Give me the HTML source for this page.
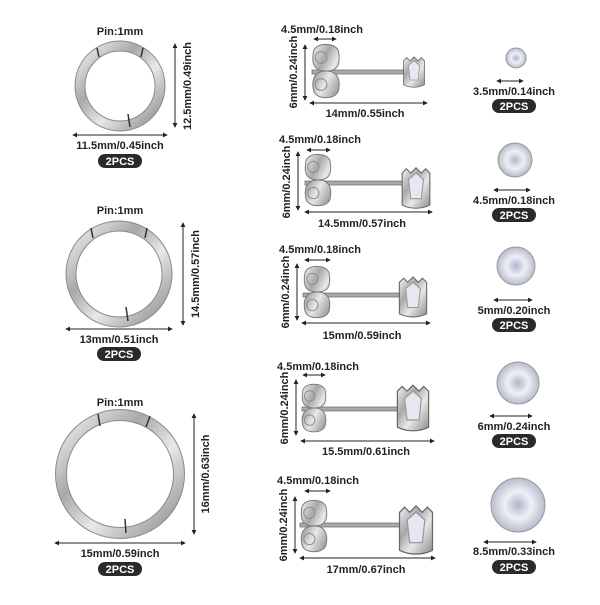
<!DOCTYPE html>
<html><head><meta charset="utf-8"><style>
html,body{margin:0;padding:0;background:#fff}
svg text{font-family:"Liberation Sans",Arial,sans-serif;font-weight:bold;font-size:11px;fill:#222}
.b{fill:#fff;font-size:11px}
</style></head><body>
<svg width="600" height="600" viewBox="0 0 600 600" xmlns="http://www.w3.org/2000/svg">
<defs>
<linearGradient id="m" x1="0" y1="0" x2="1" y2="1">
<stop offset="0" stop-color="#f4f4f4"/><stop offset=".35" stop-color="#a8a8a8"/><stop offset=".6" stop-color="#e8e8e8"/><stop offset="1" stop-color="#8a8a8a"/></linearGradient>
<radialGradient id="g"><stop offset="0" stop-color="#aeb6cc"/><stop offset=".5" stop-color="#eef0f6"/><stop offset="1" stop-color="#b8bccb"/></radialGradient>
<marker id="a" viewBox="0 0 6 6" refX="5" refY="3" markerWidth="5" markerHeight="5" orient="auto-start-reverse"><path d="M0,0L6,3L0,6z" fill="#222"/></marker>
<symbol id="back" viewBox="0 0 30 60"><path d="M15,30 C2,30 0,22 2,10 C4,0 26,0 28,10 C30,22 28,30 15,30 C28,30 30,40 28,50 C26,60 4,60 2,50 C0,40 2,30 15,30z" fill="url(#m)" stroke="#777" stroke-width="1"/><circle cx="10" cy="16" r="6" fill="none" stroke="#888"/><circle cx="10" cy="44" r="6" fill="none" stroke="#888"/></symbol>
<symbol id="head" viewBox="0 0 30 40"><path d="M2,6 L6,2 10,6 15,1 20,6 24,2 28,6 L28,36 C20,40 10,40 2,36z" fill="url(#m)" stroke="#666"/><path d="M8,12 L15,6 22,12 20,30 10,30z" fill="#e6e8ef" stroke="#999"/></symbol>
</defs>
<g stroke="#222" stroke-width="1" marker-start="url(#a)" marker-end="url(#a)">
<line x1="175" y1="44" x2="175" y2="127"/><line x1="73" y1="135" x2="167" y2="135"/>
<line x1="183" y1="223" x2="183" y2="325"/><line x1="66" y1="329" x2="172" y2="329"/>
<line x1="194" y1="414" x2="194" y2="534"/><line x1="55" y1="543" x2="185" y2="543"/>
<line x1="314" y1="39" x2="336" y2="39"/><line x1="305" y1="45" x2="305" y2="100"/><line x1="310" y1="103" x2="427" y2="103"/>
<line x1="307" y1="150" x2="330" y2="150"/><line x1="298" y1="152" x2="298" y2="210"/><line x1="305" y1="212" x2="432" y2="212"/>
<line x1="305" y1="260" x2="330" y2="260"/><line x1="297" y1="264" x2="297" y2="320"/><line x1="302" y1="323" x2="430" y2="323"/>
<line x1="303" y1="375" x2="325" y2="375"/><line x1="296" y1="380" x2="296" y2="435"/><line x1="301" y1="441" x2="434" y2="441"/>
<line x1="305" y1="491" x2="330" y2="491"/><line x1="295" y1="497" x2="295" y2="553"/><line x1="300" y1="558" x2="435" y2="558"/>
<line x1="497" y1="81" x2="523" y2="81"/><line x1="494" y1="190" x2="530" y2="190"/><line x1="494" y1="300" x2="532" y2="300"/><line x1="490" y1="416" x2="532" y2="416"/><line x1="484" y1="542" x2="536" y2="542"/>
</g>
<!-- hoops -->
<g fill="none">
<circle cx="120" cy="86" r="40" stroke="#8a8a8a" stroke-width="11"/><circle cx="120" cy="86" r="40" stroke="url(#m)" stroke-width="9"/>
<circle cx="119" cy="274" r="48" stroke="#8a8a8a" stroke-width="11"/><circle cx="119" cy="274" r="48" stroke="url(#m)" stroke-width="9"/>
<circle cx="120" cy="474" r="59" stroke="#8a8a8a" stroke-width="12"/><circle cx="120" cy="474" r="59" stroke="url(#m)" stroke-width="10"/>
</g>
<g stroke="#333" stroke-width="1.5"><line x1="128" y1="114" x2="130" y2="127"/><line x1="126" y1="307" x2="128" y2="321"/><line x1="125" y1="519" x2="126" y2="533"/>
<line x1="97" y1="48" x2="99" y2="57"/><line x1="143" y1="48" x2="141" y2="57"/>
<line x1="91" y1="228" x2="93" y2="238"/><line x1="147" y1="228" x2="145" y2="238"/>
<line x1="98" y1="414" x2="100" y2="426"/><line x1="150" y1="416" x2="146" y2="427"/></g>
<!-- studs -->
<g fill="#aaa" stroke="#666" stroke-width=".7">
<rect x="312" y="70" width="92" height="4"/><rect x="305" y="181" width="98" height="4"/><rect x="303" y="293" width="96" height="4"/><rect x="302" y="407" width="96" height="4"/><rect x="300" y="523" width="100" height="4"/>
</g>
<use href="#back" x="311" y="42" width="30" height="58"/><use href="#head" x="402" y="56" width="24" height="32"/>
<use href="#back" x="304" y="150" width="28" height="60"/><use href="#head" x="400" y="166" width="32" height="44"/>
<use href="#back" x="303" y="264" width="28" height="56"/><use href="#head" x="397" y="276" width="32" height="42"/>
<use href="#back" x="301" y="382" width="26" height="52"/><use href="#head" x="395" y="383" width="36" height="50"/>
<use href="#back" x="300" y="497" width="28" height="58"/><use href="#head" x="397" y="503" width="38" height="54"/>
<!-- gems -->
<g fill="url(#g)" stroke="#999" stroke-width="1">
<circle cx="516" cy="58" r="10"/><circle cx="515" cy="160" r="17"/><circle cx="516" cy="266" r="19"/><circle cx="518" cy="383" r="21"/><circle cx="518" cy="505" r="27"/>
</g>
<!-- texts -->
<g text-anchor="middle">
<text x="120" y="35">Pin:1mm</text><text x="120" y="149">11.5mm/0.45inch</text>
<text x="120" y="214">Pin:1mm</text><text x="119" y="343">13mm/0.51inch</text>
<text x="120" y="406">Pin:1mm</text><text x="120" y="557">15mm/0.59inch</text>
<text transform="translate(191,86) rotate(-90)">12.5mm/0.49inch</text>
<text transform="translate(199,274) rotate(-90)">14.5mm/0.57inch</text>
<text transform="translate(209,474) rotate(-90)">16mm/0.63inch</text>
<text x="322" y="33">4.5mm/0.18inch</text><text x="365" y="117">14mm/0.55inch</text><text transform="translate(297,72) rotate(-90)">6mm/0.24inch</text>
<text x="320" y="143">4.5mm/0.18inch</text><text x="362" y="227">14.5mm/0.57inch</text><text transform="translate(290,182) rotate(-90)">6mm/0.24inch</text>
<text x="320" y="253">4.5mm/0.18inch</text><text x="362" y="339">15mm/0.59inch</text><text transform="translate(289,292) rotate(-90)">6mm/0.24inch</text>
<text x="318" y="370">4.5mm/0.18inch</text><text x="366" y="455">15.5mm/0.61inch</text><text transform="translate(288,408) rotate(-90)">6mm/0.24inch</text>
<text x="318" y="484">4.5mm/0.18inch</text><text x="366" y="573">17mm/0.67inch</text><text transform="translate(287,525) rotate(-90)">6mm/0.24inch</text>
<text x="514" y="95">3.5mm/0.14inch</text><text x="514" y="204">4.5mm/0.18inch</text><text x="514" y="314">5mm/0.20inch</text><text x="514" y="430">6mm/0.24inch</text><text x="514" y="555">8.5mm/0.33inch</text>
</g>
<g fill="#2a2a2a">
<rect x="98" y="154" width="44" height="14" rx="7"/><rect x="97" y="347" width="44" height="14" rx="7"/><rect x="98" y="562" width="44" height="14" rx="7"/>
<rect x="492" y="99" width="44" height="14" rx="7"/><rect x="492" y="208" width="44" height="14" rx="7"/><rect x="492" y="318" width="44" height="14" rx="7"/><rect x="492" y="434" width="44" height="14" rx="7"/><rect x="492" y="560" width="44" height="14" rx="7"/>
</g>
<g text-anchor="middle" class="b">
<text class="b" x="120" y="165">2PCS</text><text class="b" x="119" y="358">2PCS</text><text class="b" x="120" y="573">2PCS</text>
<text class="b" x="514" y="110">2PCS</text><text class="b" x="514" y="219">2PCS</text><text class="b" x="514" y="329">2PCS</text><text class="b" x="514" y="445">2PCS</text><text class="b" x="514" y="571">2PCS</text>
</g>
</svg>
</body></html>
